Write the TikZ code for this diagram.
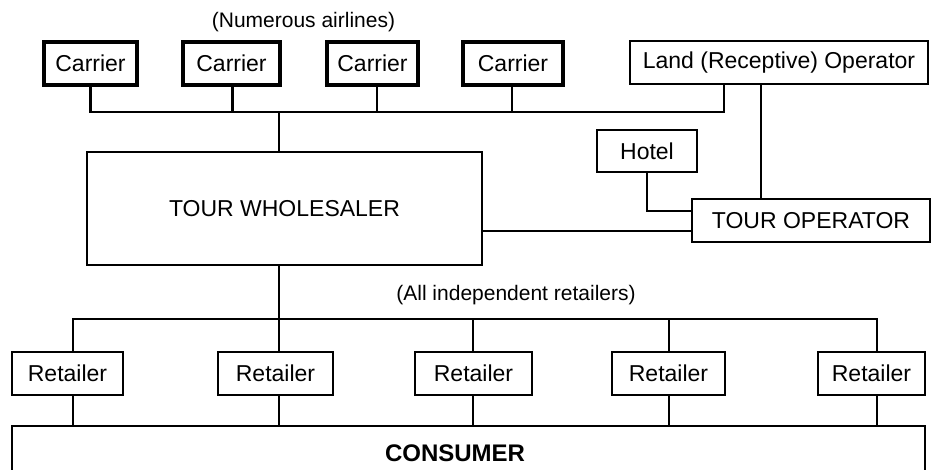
\documentclass[tikz,border=0pt]{standalone}
\usepackage{fontspec}
\setmainfont{Liberation Sans}
\begin{document}
\begin{tikzpicture}[x=1pt,y=-1pt,
  box/.style={draw, line width=2.2pt, inner sep=0pt, font=\fontsize{23}{26}\selectfont},
  carrier/.style={box, line width=3.6pt, minimum height=43pt},
  lbl/.style={font=\fontsize{21}{24}\selectfont, inner sep=0pt},
  conn/.style={line width=2.2pt},
  retail/.style={box, minimum height=43pt}]
\useasboundingbox (0,0) rectangle (932,469);
\fill[white] (0,0) rectangle (932,469);
\clip (0,0) rectangle (932,469);

% labels
\node[lbl] (numer) at (303.5,22) {(Numerous airlines)};
\node[lbl] (indep) at (516,295) {(All independent retailers)};

% carriers
\node[carrier, minimum width=93pt]  (c1) at (90.5,63.5) {Carrier};
\node[carrier, minimum width=97pt]  (c2) at (231.5,63.5) {Carrier};
\node[carrier, minimum width=91pt]  (c3) at (372.5,63.5) {Carrier};
\node[carrier, minimum width=100pt] (c4) at (513,63.5) {Carrier};
\node[box, minimum width=298pt, minimum height=43pt] (land) at (779,62.5) {Land (Receptive) Operator};

% wholesaler, hotel, tour operator
\node[box, minimum width=395pt, minimum height=113pt] (wh) at (284.5,208.5) {TOUR WHOLESALER};
\node[box, minimum width=100pt, minimum height=42pt] (hotel) at (647,151) {Hotel};
\node[box, minimum width=238pt, minimum height=43pt] (top) at (811,220.5) {TOUR OPERATOR};

% retailers
\node[retail, minimum width=111pt] (r1) at (67.5,373.5) {Retailer};
\node[retail, minimum width=115pt] (r2) at (275.5,373.5) {Retailer};
\node[retail, minimum width=117pt] (r3) at (473.5,373.5) {Retailer};
\node[retail, minimum width=113pt] (r4) at (668.5,373.5) {Retailer};
\node[retail, minimum width=107pt] (r5) at (871.5,373.5) {Retailer};

% consumer
\node[box, minimum width=913pt, minimum height=60pt] (cons) at (468.5,456) {};
\node[inner sep=0pt, font=\fontsize{24}{27}\selectfont\bfseries] (constext) at (455,453.5) {CONSUMER};

% carrier bus
\coordinate (cb) at (279,112);
\coordinate (la) at ([xshift=95pt]land.south west);
\coordinate (lb) at ([xshift=132pt]land.south west);
\draw[conn] (c1.south) |- (cb);
\draw[conn] ([xshift=1pt]c2.south) |- (cb);
\draw[conn] ([xshift=4.5pt]c3.south) |- (cb);
\draw[conn] ([xshift=-1pt]c4.south) |- (cb);
\draw[conn] (la) |- (cb);
\draw[conn] (cb) -- (cb |- wh.north);

% land operator to tour operator
\draw[conn] (lb) -- (lb |- top.north);

% hotel to tour operator
\draw[conn] (hotel.south) |- ([yshift=9.5pt]top.west);

% wholesaler to tour operator
\coordinate (tw) at ([yshift=-10.5pt]top.west);
\draw[conn] (wh.east |- tw) -- (tw);

% retailer bus
\coordinate (rb) at (279,319);
\draw[conn] (cb |- wh.south) -- (rb);
\draw[conn] ([xshift=5.5pt]r1.north) |- (rb);
\draw[conn] ([xshift=3.5pt]r2.north) |- (rb);
\draw[conn] ([xshift=-0.5pt]r3.north) |- (rb);
\draw[conn] ([xshift=0.5pt]r4.north) |- (rb);
\draw[conn] ([xshift=5.5pt]r5.north) |- (rb);

% retailers to consumer
\coordinate (d1) at ([xshift=5.5pt]r1.south);
\coordinate (d2) at ([xshift=3.5pt]r2.south);
\coordinate (d3) at ([xshift=-0.5pt]r3.south);
\coordinate (d4) at ([xshift=0.5pt]r4.south);
\coordinate (d5) at ([xshift=5.5pt]r5.south);
\draw[conn] (d1) -- (d1 |- cons.north);
\draw[conn] (d2) -- (d2 |- cons.north);
\draw[conn] (d3) -- (d3 |- cons.north);
\draw[conn] (d4) -- (d4 |- cons.north);
\draw[conn] (d5) -- (d5 |- cons.north);
\end{tikzpicture}
\end{document}
